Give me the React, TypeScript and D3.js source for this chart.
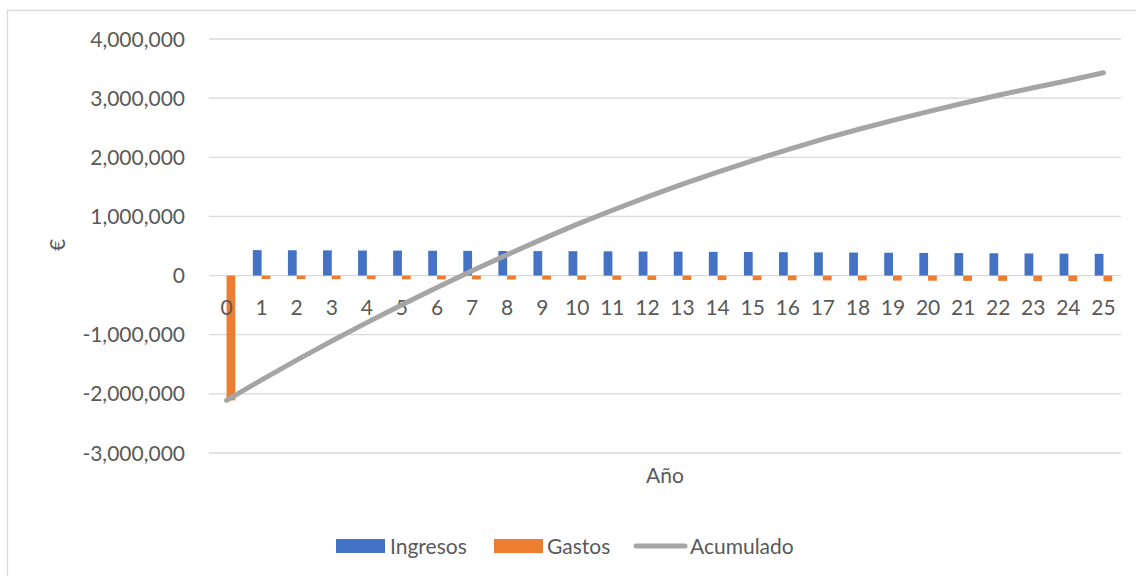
import React from "react";
import * as d3 from "d3";

const years: string[] = ["0","1","2","3","4","5","6","7","8","9","10","11","12","13","14","15","16","17","18","19","20","21","22","23","24","25"];
const ingresos: number[] = [0, 430000, 428000, 426000, 424000, 422000, 420000, 418000, 416000, 414000, 412000, 410000, 407000, 404000, 401000, 398000, 395000, 392000, 389000, 386000, 383000, 380000, 377000, 374000, 371000, 368000];
const gastos: number[] = [-2110000, -58000, -60000, -61000, -62000, -64000, -65000, -66000, -68000, -69000, -71000, -72000, -74000, -75000, -77000, -78000, -80000, -82000, -83000, -85000, -87000, -89000, -90000, -92000, -94000, -96000];
const acumulado: number[] = [-2110000, -1765000, -1430000, -1107000, -795000, -493000, -201000, 81000, 353000, 616000, 870000, 1105000, 1330000, 1545000, 1750000, 1945000, 2130000, 2307000, 2470000, 2625000, 2773000, 2914000, 3048000, 3176000, 3298000, 3430000];
const yTicks: number[] = [-3000000, -2000000, -1000000, 0, 1000000, 2000000, 3000000, 4000000];
const seriesNames: string[] = ["Ingresos", "Gastos", "Acumulado"];
const colors: string[] = ["#4472C4", "#ED7D31", "#A5A5A5"];

const FONT = "Lato, 'Open Sans', 'Liberation Sans', sans-serif";
const TXT = "#595959";

export default function App() {
  const W = 1136, H = 576;
  const left = 209, right = 1121, top = 39, bottom = 453;
  const x = d3.scaleBand<string>().domain(years).range([left, right]).paddingInner(0).paddingOuter(0);
  const y = d3.scaleLinear().domain([-3000000, 4000000]).range([bottom, top]);
  const bw = x.bandwidth() / 4;
  const f = d3.format(",");
  const fmt = (v: number) => f(v).replace("\u2212", "-");
  const cx = (d: string) => (x(d) as number) + x.bandwidth() / 2;
  const line = d3.line<number>().x((_, i) => cx(years[i])).y((v) => y(v)).curve(d3.curveLinear);
  const fs = 21;

  return (
    <svg width={W} height={H} style={{ position: "absolute", left: 0, top: 0, background: "#fff" }} fontFamily={FONT}>
      <rect x={7.5} y={10.5} width={1160} height={600} fill="#fff" stroke="#D9D9D9" strokeWidth={1.3} />
      {yTicks.map((t) => (
        <g key={t}>
          <line x1={left} x2={right} y1={y(t)} y2={y(t)} stroke="#D9D9D9" strokeWidth={1.3} />
          <text x={185} y={y(t)} dy="0.36em" textAnchor="end" fontSize={fs} fill={TXT}>{fmt(t)}</text>
        </g>
      ))}
      {years.map((d, i) => (
        <g key={d}>
          {ingresos[i] !== 0 && (
            <rect x={cx(d) - bw} width={bw} y={y(Math.max(0, ingresos[i]))} height={Math.abs(y(ingresos[i]) - y(0))} fill={colors[0]} />
          )}
          <rect x={cx(d)} width={bw} y={y(Math.max(0, gastos[i]))} height={Math.abs(y(gastos[i]) - y(0))} fill={colors[1]} />
          <text x={cx(d)} y={307} dy="0.36em" textAnchor="middle" fontSize={fs} fill={TXT}>{d}</text>
        </g>
      ))}
      <path d={line(acumulado) as string} fill="none" stroke={colors[2]} strokeWidth={5} strokeLinecap="round" strokeLinejoin="round" />
      <text x={(left + right) / 2} y={475} dy="0.36em" textAnchor="middle" fontSize={fs} fill={TXT}>Año</text>
      <text transform={`translate(57,245) rotate(-90)`} dy="0.36em" textAnchor="middle" fontSize={fs} fill={TXT}>€</text>
      <g>
        <rect x={336} y={539} width={49} height={14} fill={colors[0]} />
        <text x={390} y={546} dy="0.36em" fontSize={fs} fill={TXT}>{seriesNames[0]}</text>
        <rect x={494} y={539} width={49} height={14} fill={colors[1]} />
        <text x={547} y={546} dy="0.36em" fontSize={fs} fill={TXT}>{seriesNames[1]}</text>
        <line x1={636} x2={685} y1={546} y2={546} stroke={colors[2]} strokeWidth={5} strokeLinecap="round" />
        <text x={690} y={546} dy="0.36em" fontSize={fs} fill={TXT}>{seriesNames[2]}</text>
      </g>
    </svg>
  );
}
